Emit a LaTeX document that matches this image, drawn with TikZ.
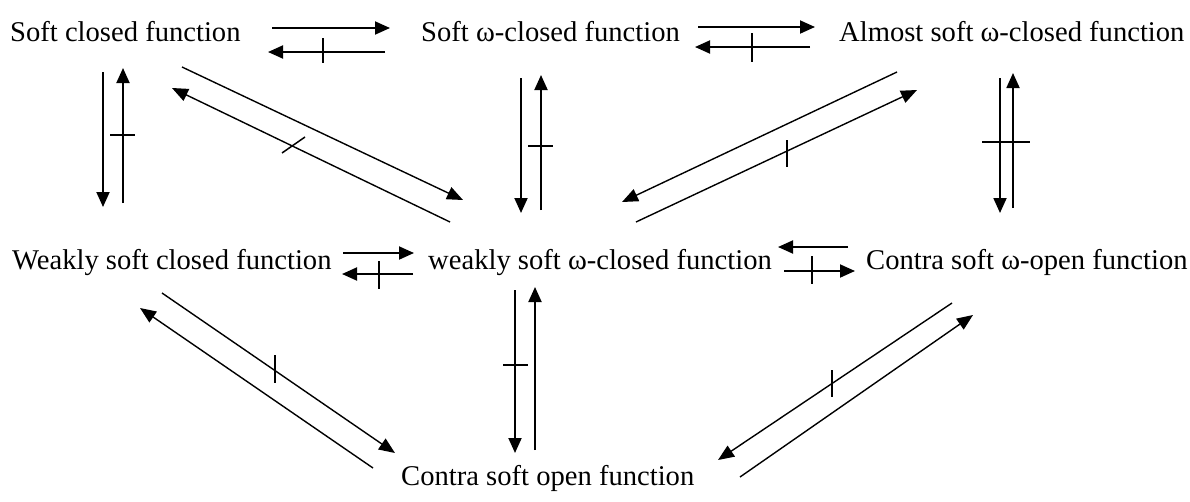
\documentclass[tikz,border=0pt]{standalone}
\usepackage{fontspec}
\setmainfont{Liberation Serif}
\usetikzlibrary{arrows.meta}
\begin{document}
\begin{tikzpicture}[x=1pt,y=-1pt,
  lbl/.style={anchor=base west, inner sep=0pt, font=\fontsize{28.6}{30}\selectfont},
  arr/.style={line width=1.9pt, -{Triangle[length=15pt,width=13pt]}},
  darr/.style={line width=1.4pt, -{Triangle[length=16pt,width=13pt]}},
  tickmark/.style={line width=1.5pt}]
\fill[white] (0,0) rectangle (1190,501);
\useasboundingbox (0,0) rectangle (1190,501);
% labels
\node[lbl] (sc)   at (10,41)  {Soft closed function};
\node[lbl] (swc)  at (421,41) {Soft ω-closed function};
\node[lbl] (aswc) at (839,41) {Almost soft ω-closed function};
\node[lbl] (wsc)  at (12,269) {Weakly soft closed function};
\node[lbl] (wswc) at (428,269) {weakly soft ω-closed function};
\node[lbl] (cswo) at (866,269) {Contra soft ω-open function};
\node[lbl] (cso)  at (401,485) {Contra soft open function};
% connector end points
\coordinate (a1s) at (272,28);  \coordinate (a1e) at (390,28);
\coordinate (a2s) at (385,52);  \coordinate (a2e) at (268,52);
\coordinate (a3s) at (698,27);  \coordinate (a3e) at (815,27);
\coordinate (a4s) at (810,47);  \coordinate (a4e) at (695,47);
\coordinate (a5s) at (103,72);  \coordinate (a5e) at (103,207);
\coordinate (a6s) at (123,203); \coordinate (a6e) at (123,68);
\coordinate (a7s) at (521,78);  \coordinate (a7e) at (521,213);
\coordinate (a8s) at (541,210); \coordinate (a8e) at (541,75);
\coordinate (a9s) at (1000,78); \coordinate (a9e) at (1000,213);
\coordinate (a10s) at (1013,208); \coordinate (a10e) at (1013,73);
\coordinate (a11s) at (343,253); \coordinate (a11e) at (414,253);
\coordinate (a12s) at (413,274); \coordinate (a12e) at (342,274);
\coordinate (a13s) at (848,247); \coordinate (a13e) at (778,247);
\coordinate (a14s) at (784,271); \coordinate (a14e) at (855,271);
\coordinate (a15s) at (515,290); \coordinate (a15e) at (515,453);
\coordinate (a16s) at (535,450); \coordinate (a16e) at (535,287);
\coordinate (a17s) at (182,67);  \coordinate (a17e) at (463,200);
\coordinate (a18s) at (450,222); \coordinate (a18e) at (172,88);
\coordinate (a19s) at (897,72);  \coordinate (a19e) at (622,202);
\coordinate (a20s) at (636,222); \coordinate (a20e) at (917,90);
\coordinate (a21s) at (162,293); \coordinate (a21e) at (395,453);
\coordinate (a22s) at (373,468); \coordinate (a22e) at (140,308);
\coordinate (a23s) at (952,303); \coordinate (a23e) at (718,460);
\coordinate (a24s) at (740,477); \coordinate (a24e) at (973,315);
% horizontal and vertical arrows
\foreach \i in {1,...,16} \draw[arr] (a\i s) -- (a\i e);
% diagonal arrows
\foreach \i in {17,...,24} \draw[darr] (a\i s) -- (a\i e);
% negation ticks
\draw[tickmark] (323,38) -- (323,63);
\draw[tickmark] (752,33) -- (752,62);
\draw[tickmark] (110,135) -- (135,135);
\draw[tickmark] (528,146) -- (553,146);
\draw[tickmark] (982,142) -- (1030,142);
\draw[tickmark] (379,261) -- (379,289);
\draw[tickmark] (812,256) -- (812,284);
\draw[tickmark] (503,365) -- (528,365);
\draw[tickmark] (282,153) -- (305,137);
\draw[tickmark] (787,140) -- (787,167);
\draw[tickmark] (275,355) -- (275,383);
\draw[tickmark] (832,370) -- (832,397);
\end{tikzpicture}
\end{document}
